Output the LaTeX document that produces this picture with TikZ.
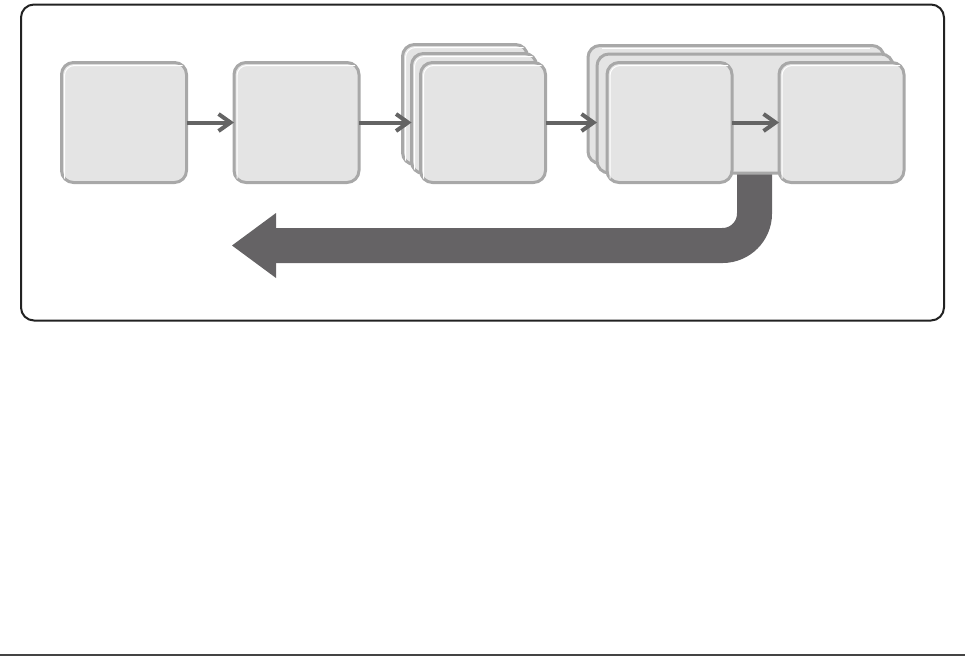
\documentclass[tikz,border=0pt]{standalone}
\usetikzlibrary{arrows.meta,calc}
\definecolor{boxfill}{HTML}{E4E4E4}
\definecolor{boxline}{HTML}{A8A8A8}
\definecolor{arrowgray}{HTML}{646464}
\definecolor{pipegray}{HTML}{656365}
\definecolor{framecol}{HTML}{222222}
\definecolor{rulecol}{HTML}{444444}
\tikzset{
  stagebox/.style={draw=boxline, fill=boxfill, line width=3pt, rounded corners=12pt,
    minimum width=125pt, minimum height=120pt, inner sep=0pt, outer sep=0pt},
  layerbox/.style={draw=boxline, fill=boxfill, line width=3pt, rounded corners=12pt,
    inner sep=0pt, outer sep=0pt},
  flowarrow/.style={draw=arrowgray, line width=4pt, -{Straight Barb[length=12pt,width=17pt,line width=4pt]}},
  pipe/.style={draw=pipegray, line width=35pt, rounded corners=32pt},
}
\newcommand{\shine}[1]{%
  \draw[white, line width=1pt, rounded corners=10pt]
    ($(#1.south west)+(3pt,4pt)$) -- ($(#1.north west)+(3pt,-3pt)$) -- ($(#1.north east)+(-4pt,-3pt)$);}
\begin{document}
\begin{tikzpicture}[x=1pt,y=-1pt]
\useasboundingbox (0,0) rectangle (965,656);
% outer frame
\node[draw=framecol, line width=2pt, rounded corners=13pt, minimum width=923pt, minimum height=316pt,
  inner sep=0pt] (frame) at (482.5,162.5) {};
% bottom rule
\coordinate (ruleL) at (0,655);
\coordinate (ruleR) at (965,655);
\draw[rulecol, line width=2pt] (ruleL) -- (ruleR);

% pipe (drawn first, behind the stacks)
\coordinate (pipeTop) at (754.5,165);
\coordinate (pipeEnd) at (274,245.5);
\draw[pipe] (pipeTop) -- (754.5,245.5) -- (pipeEnd);
\coordinate (tipA) at (276,213);
\coordinate (tipB) at (232,245.5);
\coordinate (tipC) at (276,278);
\fill[pipegray] (tipA) -- (tipB) -- (tipC) -- cycle;

% stage 1 and 2
\node[stagebox] (b1) at (124,122.5) {};
\node[stagebox] (b2) at (296.5,122.5) {};
% stage 3 stack
\node[stagebox] (b3back) at (465,104.5) {};
\node[stagebox] (b3mid) at (474,113.5) {};
\node[stagebox] (b3) at (483,122.5) {};
% stage 4 stack (wide layers)
\node[layerbox, minimum width=296pt, minimum height=118pt] (s4back) at (736,104.5) {};
\node[layerbox, minimum width=296pt, minimum height=119pt] (s4mid) at (745,113.5) {};
\node[stagebox] (b4) at (669.5,122.5) {};
\node[stagebox] (b5) at (841.5,122.5) {};

\foreach \n in {b1,b2,b3back,b3mid,b3,b4,b5} {\shine{\n}}
\draw[white, line width=1pt] ($(s4back.north west)+(14pt,-3pt)$) -- ($(s4back.north east)+(-14pt,-3pt)$);

% flow arrows
\draw[flowarrow] (b1.east) -- (b2.west);
\draw[flowarrow] (b2.east) -- (b3mid.west |- b2.east);
\draw[flowarrow] (b3.east) -- (s4mid.west |- b3.east);
\draw[flowarrow] (b4.east) -- (b5.west);
\end{tikzpicture}
\end{document}
